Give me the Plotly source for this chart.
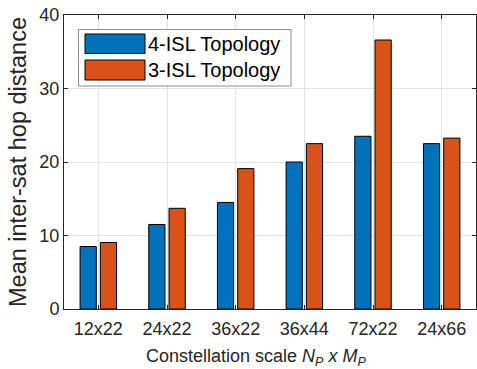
import plotly.graph_objects as go

categories = ["12x22", "24x22", "36x22", "36x44", "72x22", "24x66"]
isl4 = [8.5, 11.5, 14.5, 20.0, 23.5, 22.5]
isl3 = [9.05, 13.7, 19.1, 22.5, 36.6, 23.25]
series_names = ["4-ISL Topology", "3-ISL Topology"]
colors = ["#0072BD", "#D95319"]

FONT = "Arial, Liberation Sans, sans-serif"
W, H = 477, 369
ML, MR, MT, MB = 64, 1, 15, 60

fig = go.Figure()
for name, vals, col in zip(series_names, [isl4, isl3], colors):
    fig.add_trace(go.Bar(
        x=categories, y=vals, name=name,
        marker=dict(color=col, line=dict(color="#000000", width=1)),
        showlegend=False,
    ))

axis_common = dict(
    showline=True, linecolor="#262626", linewidth=1, mirror="ticks",
    ticks="inside", ticklen=4, tickcolor="#262626",
    showgrid=True, gridcolor="#e3e3e3", gridwidth=1,
    tickfont=dict(family=FONT, size=18, color="#262626"),
    zeroline=False,
)

fig.update_layout(
    width=W, height=H,
    margin=dict(l=ML, r=MR, t=MT, b=MB),
    plot_bgcolor="white", paper_bgcolor="white",
    barmode="group", bargap=0.41, bargroupgap=0.2,
    font=dict(family=FONT, color="#262626"),
    xaxis=dict(**axis_common, ticklabelstandoff=3),
    yaxis=dict(
        **axis_common,
        range=[0, 40], dtick=10,
        title=dict(text="Mean inter-sat hop distance",
                   font=dict(family=FONT, size=23.5, color="#262626"), standoff=6),
    ),
)

def px2x(px):
    return (px - ML) / (W - ML - MR)

def py2y(py):
    return (H - MB - py) / (H - MT - MB)

# x-axis title
fig.add_annotation(xref="paper", yref="paper", x=px2x(144), y=py2y(357),
                   text="Constellation scale <i>N</i><sub><i>P</i></sub> <i>x M</i><sub><i>P</i></sub>",
                   showarrow=False, xanchor="left", yanchor="middle",
                   font=dict(family=FONT, size=18, color="#262626"))

# legend drawn in paper coordinates
fig.add_shape(type="rect", xref="paper", yref="paper",
              x0=px2x(78.5), x1=px2x(291), y0=py2y(86), y1=py2y(29.5),
              line=dict(color="#8c8c8c", width=1), fillcolor="white", layer="above")
swatches = [(34, 53.5), (60, 80)]
for (y0, y1), name, col in zip(swatches, series_names, colors):
    fig.add_shape(type="rect", xref="paper", yref="paper",
                  x0=px2x(85), x1=px2x(145), y0=py2y(y1), y1=py2y(y0),
                  line=dict(color="#000000", width=1), fillcolor=col, layer="above")
    fig.add_annotation(xref="paper", yref="paper", x=px2x(146), y=py2y((y0 + y1) / 2),
                       text=name, showarrow=False, xanchor="left", yanchor="middle",
                       font=dict(family=FONT, size=20, color="#000000"))

fig.write_html("out.html")
